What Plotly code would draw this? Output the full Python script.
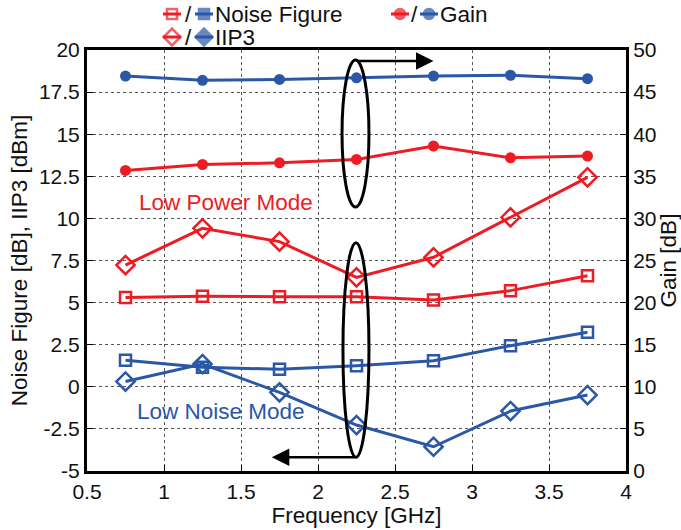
import plotly.graph_objects as go

# ---------------- data ----------------
freq = [0.75, 1.25, 1.75, 2.25, 2.75, 3.25, 3.75]
nf_low_power = [5.31, 5.37, 5.35, 5.35, 5.15, 5.71, 6.60]
nf_low_noise = [1.57, 1.16, 1.04, 1.25, 1.55, 2.44, 3.24]
iip3_low_power = [7.23, 9.41, 8.62, 6.50, 7.69, 10.06, 12.44]
iip3_low_noise = [0.31, 1.35, -0.33, -2.27, -3.56, -1.44, -0.49]
gain_low_power = [35.7, 36.4, 36.6, 37.0, 38.6, 37.2, 37.4]
gain_low_noise = [46.9, 46.4, 46.5, 46.7, 46.9, 47.0, 46.6]

left_ticks = [-5, -2.5, 0, 2.5, 5, 7.5, 10, 12.5, 15, 17.5, 20]
left_labels = ["-5", "-2.5", "0", "2.5", "5", "7.5", "10", "12.5", "15", "17.5", "20"]
right_ticks = [0, 5, 10, 15, 20, 25, 30, 35, 40, 45, 50]
x_ticks = [0.5, 1, 1.5, 2, 2.5, 3, 3.5, 4]
x_labels = ["0.5", "1", "1.5", "2", "2.5", "3", "3.5", "4"]

RED = "#ED1C24"
BLUE = "#2B57A7"
FONT = "Liberation Sans, Arial, sans-serif"
FS = 21      # tick labels
FT = 22.5    # titles, legend, annotations

W, H = 681, 530
# plot area in page pixels: left 87, right 626, top 50, bottom 471
ML = 87
MR = W - 626
MB = H - 471
MT = 0
plot_h = H - MT - MB
top_px = 50
ydom_top = (plot_h - top_px) / plot_h

fig = go.Figure()

def series(y, color, symbol, size, yaxis="y", mlw=2.5):
    fig.add_trace(go.Scatter(
        x=freq, y=y, mode="lines+markers", yaxis=yaxis, xaxis="x",
        line=dict(color=color, width=3),
        marker=dict(symbol=symbol, size=size, color=color,
                    line=dict(color=color, width=mlw)),
        showlegend=False, hoverinfo="skip"))

series(nf_low_power, RED, "square-open", 11)
series(nf_low_noise, BLUE, "square-open", 11)
series(iip3_low_power, RED, "diamond-open", 14)
series(iip3_low_noise, BLUE, "diamond-open", 14)
series(gain_low_power, RED, "circle", 11, yaxis="y2", mlw=0)
series(gain_low_noise, BLUE, "circle", 11, yaxis="y2", mlw=0)

# ---------------- custom legend on an overlay axis (page pixel units) ----------------
leg_rows = [
    # (red x, blue x, y, red symbol, blue symbol, text)
    (172, 204, 14, "square-open", "square", "Noise Figure"),
    (400, 429, 14, "circle", "circle", "Gain"),
    (172, 204, 37, "diamond-open", "diamond", "IIP3"),
]
for rx, bx, ly, rsym, bsym, txt in leg_rows:
    for cx, col, sym in ((rx, RED, rsym), (bx, BLUE, bsym)):
        sz = 13 if "diamond" in sym else 10
        fig.add_trace(go.Scatter(
            x=[cx - 9, cx, cx + 9], y=[ly, ly, ly], mode="lines+markers",
            xaxis="x3", yaxis="y3",
            line=dict(color=col, width=3),
            marker=dict(symbol=sym, size=[0, sz, 0], color=col,
                        line=dict(color=col, width=2.5)),
            showlegend=False, hoverinfo="skip"))
    fig.add_annotation(x=(rx + bx) / 2, y=ly, xref="x3", yref="y3", text="/",
                       showarrow=False, font=dict(family=FONT, size=FT, color="#111"))
    fig.add_annotation(x=bx + 9, y=ly, xref="x3", yref="y3", text=txt,
                       xanchor="left", showarrow=False,
                       font=dict(family=FONT, size=FT, color="#111"))

# ---------------- ellipses and arrows ----------------
fig.add_shape(type="circle", xref="x", yref="y", x0=2.156, x1=2.331, y0=10.68, y1=19.41,
              line=dict(color="black", width=3))
fig.add_shape(type="circle", xref="x", yref="y", x0=2.162, x1=2.331, y0=-4.19, y1=8.56,
              line=dict(color="black", width=3))
fig.add_annotation(x=2.75, y=19.35, ax=2.25, ay=19.35, xref="x", yref="y",
                   axref="x", ayref="y", text="", showarrow=True,
                   arrowhead=2, arrowsize=1.4, arrowwidth=2.5, arrowcolor="black")
fig.add_annotation(x=1.70, y=-4.19, ax=2.25, ay=-4.19, xref="x", yref="y",
                   axref="x", ayref="y", text="", showarrow=True,
                   arrowhead=2, arrowsize=1.4, arrowwidth=2.5, arrowcolor="black")

fig.add_annotation(x=1.40, y=10.97, xref="x", yref="y", text="Low Power Mode",
                   showarrow=False, font=dict(family=FONT, size=FT, color=RED))
fig.add_annotation(x=1.37, y=-1.44, xref="x", yref="y", text="Low Noise Mode",
                   showarrow=False, font=dict(family=FONT, size=FT, color=BLUE))

axis_common = dict(showline=True, linecolor="black", linewidth=3,
                   ticks="inside", ticklen=6, tickwidth=1, tickcolor="black",
                   zeroline=False, automargin=False,
                   tickfont=dict(family=FONT, size=FS, color="#111"))

fig.update_layout(
    width=W, height=H,
    margin=dict(l=ML, r=MR, t=MT, b=MB),
    paper_bgcolor="white", plot_bgcolor="white",
    font=dict(family=FONT, size=FS, color="#111"),
    hovermode=False,
    xaxis=dict(range=[0.5, 4], tickvals=x_ticks, ticktext=x_labels,
               showgrid=True, gridcolor="#555", griddash="dot", gridwidth=1,
               title=dict(text="Frequency [GHz]", font=dict(family=FONT, size=FT), standoff=2),
               anchor="y", mirror=True, **axis_common),
    yaxis=dict(range=[-5, 20], tickvals=left_ticks, ticktext=left_labels,
               domain=[0, ydom_top],
               showgrid=True, gridcolor="#555", griddash="dot", gridwidth=1,
               title=dict(text="Noise Figure [dB], IIP3 [dBm]", font=dict(family=FONT, size=FT), standoff=6),
               **axis_common),
    yaxis2=dict(range=[0, 50], tickvals=right_ticks, overlaying="y", side="right",
                anchor="x", showgrid=False,
                title=dict(text="Gain [dB]", font=dict(family=FONT, size=FT), standoff=2),
                **axis_common),
    xaxis3=dict(domain=[0, 1], range=[87, 626], visible=False, anchor="y3",
                fixedrange=True),
    yaxis3=dict(domain=[ydom_top, 1], range=[50, 0], visible=False, anchor="x3",
                fixedrange=True),
)

# remove the default 8 px page margin so the figure fills the window exactly
fig.write_html("out.html",
               config={"displayModeBar": False, "staticPlot": True},
               post_script="document.body.style.margin='0';document.body.style.overflow='hidden';")
